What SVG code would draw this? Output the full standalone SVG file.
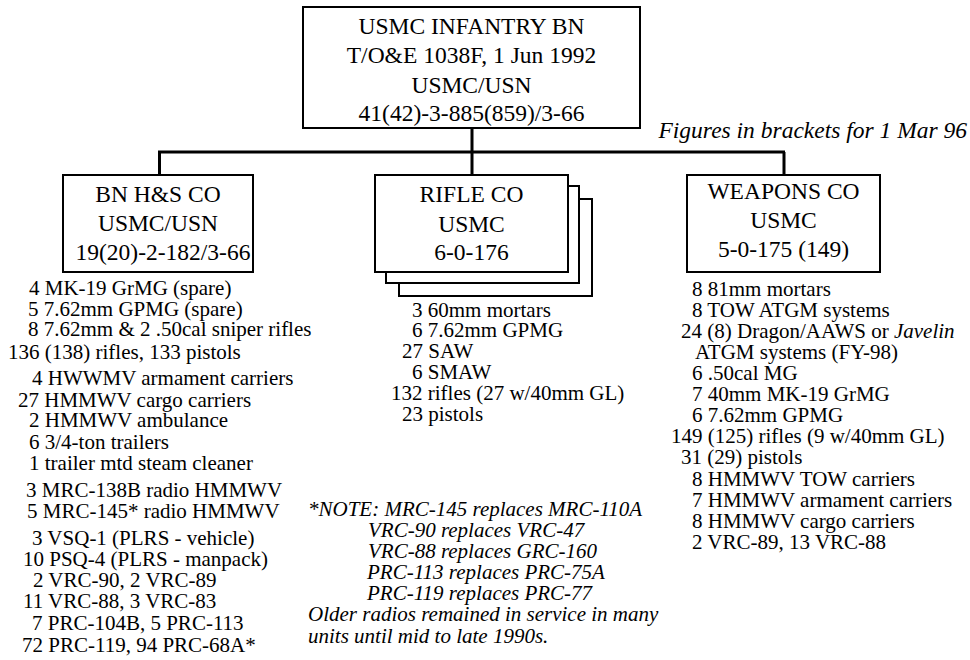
<svg xmlns="http://www.w3.org/2000/svg" width="970" height="660" viewBox="0 0 970 660">
<style>
text { font-family: "Liberation Serif", "Times New Roman", serif; fill: #000; }
.box { fill: #fff; stroke: #000; stroke-width: 2; }
.bt { font-size: 23.5px; text-anchor: middle; }
.li { font-size: 21px; }
.it { font-size: 21px; font-style: italic; }
.conn { fill: none; stroke: #000; stroke-width: 3; }
</style>
<rect width="970" height="660" fill="#fff"/>
<g id="connectors">
<path class="conn" d="M472,128 V152 M158,152 H785 M159.5,152 V175 M472,152 V175 M784,152 V175"/>
</g>
<g id="bn">
<rect class="box" x="303" y="7" width="337" height="121"/>
<text class="bt" x="471.5" y="34">USMC INFANTRY BN</text>
<text class="bt" x="471.5" y="63">T/O&amp;E 1038F, 1 Jun 1992</text>
<text class="bt" x="471.5" y="93">USMC/USN</text>
<text class="bt" x="471.5" y="121">41(42)-3-885(859)/3-66</text>
</g>
<text id="figures" class="it" style="font-size:23.5px" x="967" y="138" text-anchor="end">Figures in brackets for 1 Mar 96</text>
<g id="hs-co">
<rect class="box" x="63" y="175" width="190" height="97"/>
<text class="bt" x="158" y="202">BN H&amp;S CO</text>
<text class="bt" x="158" y="231">USMC/USN</text>
<text class="bt" x="163" y="260">19(20)-2-182/3-66</text>
</g>
<g id="hs-list" class="li">
<text class="li" x="29" y="295">4 MK-19 GrMG (spare)</text>
<text class="li" x="28" y="316">5 7.62mm GPMG (spare)</text>
<text class="li" x="28" y="336">8 7.62mm &amp; 2 .50cal sniper rifles</text>
<text class="li" x="8" y="359">136 (138) rifles, 133 pistols</text>
<text class="li" x="32" y="385">4 HWWMV armament carriers</text>
<text class="li" x="18" y="407">27 HMMWV cargo carriers</text>
<text class="li" x="29" y="427">2 HMMWV ambulance</text>
<text class="li" x="29" y="449">6 3/4-ton trailers</text>
<text class="li" x="29" y="470">1 trailer mtd steam cleaner</text>
<text class="li" x="26" y="497">3 MRC-138B radio HMMWV</text>
<text class="li" x="27" y="518">5 MRC-145* radio HMMWV</text>
<text class="li" x="32" y="545">3 VSQ-1 (PLRS - vehicle)</text>
<text class="li" x="23" y="566">10 PSQ-4 (PLRS - manpack)</text>
<text class="li" x="33" y="587">2 VRC-90, 2 VRC-89</text>
<text class="li" x="23" y="608">11 VRC-88, 3 VRC-83</text>
<text class="li" x="32" y="630">7 PRC-104B, 5 PRC-113</text>
<text class="li" x="22" y="652">72 PRC-119, 94 PRC-68A*</text>
</g>
<g id="rifle-co">
<rect class="box" x="399" y="199" width="193" height="97"/>
<rect class="box" x="386" y="186" width="193" height="97"/>
<rect class="box" x="375" y="175" width="193" height="97"/>
<text class="bt" x="471.5" y="202">RIFLE CO</text>
<text class="bt" x="471.5" y="232">USMC</text>
<text class="bt" x="471.5" y="260">6-0-176</text>
</g>
<g id="rifle-list">
<text class="li" x="412" y="317">3 60mm mortars</text>
<text class="li" x="412" y="337">6 7.62mm GPMG</text>
<text class="li" x="402" y="358">27 SAW</text>
<text class="li" x="412" y="379">6 SMAW</text>
<text class="li" x="391" y="400">132 rifles (27 w/40mm GL)</text>
<text class="li" x="402" y="421">23 pistols</text>
</g>
<g id="weapons-co">
<rect class="box" x="687" y="175" width="193" height="97"/>
<text class="bt" x="783.5" y="199">WEAPONS CO</text>
<text class="bt" x="783.5" y="228">USMC</text>
<text class="bt" x="783.5" y="257">5-0-175 (149)</text>
</g>
<g id="weapons-list">
<text class="li" x="692" y="296">8 81mm mortars</text>
<text class="li" x="692" y="317">8 TOW ATGM systems</text>
<text class="li" x="681" y="338">24 (8) Dragon/AAWS or <tspan font-style="italic">Javelin</tspan></text>
<text class="li" x="695" y="359">ATGM systems (FY-98)</text>
<text class="li" x="692" y="380">6 .50cal MG</text>
<text class="li" x="692" y="401">7 40mm MK-19 GrMG</text>
<text class="li" x="692" y="422">6 7.62mm GPMG</text>
<text class="li" x="671" y="443">149 (125) rifles (9 w/40mm GL)</text>
<text class="li" x="681" y="464">31 (29) pistols</text>
<text class="li" x="692" y="486">8 HMMWV TOW carriers</text>
<text class="li" x="692" y="507">7 HMMWV armament carriers</text>
<text class="li" x="692" y="528">8 HMMWV cargo carriers</text>
<text class="li" x="692" y="549">2 VRC-89, 13 VRC-88</text>
</g>
<g id="note">
<text class="it" x="308" y="516">*NOTE: MRC-145 replaces MRC-110A</text>
<text class="it" x="368" y="537">VRC-90 replaces VRC-47</text>
<text class="it" x="368" y="558">VRC-88 replaces GRC-160</text>
<text class="it" x="367" y="579">PRC-113 replaces PRC-75A</text>
<text class="it" x="367" y="600">PRC-119 replaces PRC-77</text>
<text class="it" x="308" y="621">Older radios remained in service in many</text>
<text class="it" x="308" y="643">units until mid to late 1990s.</text>
</g>
</svg>
